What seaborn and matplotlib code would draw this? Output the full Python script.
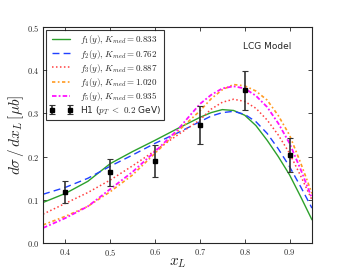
import matplotlib
matplotlib.use("Agg")
import matplotlib.pyplot as plt
import numpy as np
import pandas as pd
import seaborn as sns

# model curves
x_curve = [0.35, 0.40, 0.45, 0.50, 0.55, 0.60, 0.65, 0.70, 0.725, 0.75, 0.775, 0.80, 0.825, 0.85, 0.875, 0.90, 0.925, 0.95]
f1 = [0.094, 0.115, 0.143, 0.184, 0.212, 0.238, 0.265, 0.291, 0.302, 0.309, 0.307, 0.296, 0.272, 0.238, 0.200, 0.158, 0.107, 0.054]
f2 = [0.113, 0.129, 0.150, 0.178, 0.204, 0.231, 0.255, 0.281, 0.294, 0.302, 0.305, 0.298, 0.281, 0.254, 0.218, 0.177, 0.130, 0.081]
f3 = [0.067, 0.092, 0.117, 0.146, 0.179, 0.214, 0.250, 0.285, 0.310, 0.326, 0.333, 0.328, 0.312, 0.285, 0.250, 0.208, 0.155, 0.100]
f4 = [0.042, 0.062, 0.085, 0.119, 0.158, 0.208, 0.258, 0.306, 0.334, 0.355, 0.367, 0.364, 0.352, 0.331, 0.295, 0.250, 0.185, 0.115]
f5 = [0.035, 0.058, 0.085, 0.125, 0.165, 0.212, 0.262, 0.322, 0.343, 0.358, 0.363, 0.358, 0.341, 0.315, 0.277, 0.231, 0.170, 0.104]
labels = [
    r"$f_1(y),\,K_{med}=0.833$",
    r"$f_2(y),\,K_{med}=0.762$",
    r"$f_3(y),\,K_{med}=0.887$",
    r"$f_4(y),\,K_{med}=1.020$",
    r"$f_5(y),\,K_{med}=0.935$",
]

# H1 data
x_h1 = [0.4, 0.5, 0.6, 0.7, 0.8, 0.9]
y_h1 = [0.118, 0.164, 0.190, 0.274, 0.354, 0.204]
err_h1 = [0.026, 0.031, 0.036, 0.044, 0.045, 0.040]

sns.set_style("ticks", {"xtick.direction": "in", "ytick.direction": "in"})
plt.rcParams["mathtext.fontset"] = "cm"
plt.rcParams["font.family"] = ["DejaVu Sans"]

fig = plt.figure(figsize=(3.47, 2.71), dpi=100)
ax = fig.add_axes([0.124, 0.103, 0.775, 0.797])

colors = ["#2ca02c", "#2040ff", "#ff4040", "#ff9a20", "#ff10ff"]
dashes = ["-", (0, (5, 3)), (0, (1, 1.6)), (0, (2, 1.5, 1, 1.5)), (0, (2.5, 1.2, 1, 1.2))]
widths = [1.0, 1.0, 1.1, 1.2, 1.3]
curves = [f1, f2, f3, f4, f5]
for ys, lab, c, d, w in zip(curves, labels, colors, dashes, widths):
    df = pd.DataFrame({"x": x_curve, "y": ys})
    sns.lineplot(data=df, x="x", y="y", ax=ax, color=c, linestyle=d,
                 linewidth=w, label=lab)

ax.errorbar(x_h1, y_h1, yerr=err_h1, fmt="s", color="black", ecolor="#333333",
            markersize=2.5, elinewidth=1.2, capsize=2, capthick=0.8,
            label=r"H1 ($p_T\ <\ 0.2$ GeV)")

ax.set_xlim(0.35, 0.95)
ax.set_ylim(0.0, 0.5)
ax.set_xticks([0.4, 0.5, 0.6, 0.7, 0.8, 0.9])
ax.set_yticks([0.0, 0.1, 0.2, 0.3, 0.4, 0.5])
ax.set_xticklabels([f"${v:.1f}$" for v in ax.get_xticks()])
ax.set_yticklabels([f"${v:.1f}$" for v in ax.get_yticks()])
ax.tick_params(labelsize=6, top=True, right=True, length=3, width=0.6, pad=2.5)
for s in ax.spines.values():
    s.set_linewidth(0.8)

ax.set_xlabel(r"$x_L$", fontsize=11, labelpad=-2)
ax.set_ylabel(r"$d\sigma\,/\,dx_L\,[\mu b]$", fontsize=11, labelpad=1)
ax.text(0.85, 0.456, "LCG Model", fontsize=6.5, ha="center", va="center")

leg = ax.legend(loc="upper left", fontsize=6.5, numpoints=2, frameon=True,
                fancybox=False, borderaxespad=0.35, handlelength=2.6,
                labelspacing=0.12, borderpad=0.35, handletextpad=0.8)
leg.get_frame().set_edgecolor("black")
leg.get_frame().set_linewidth(0.8)

fig.savefig("out.png", dpi=100)
